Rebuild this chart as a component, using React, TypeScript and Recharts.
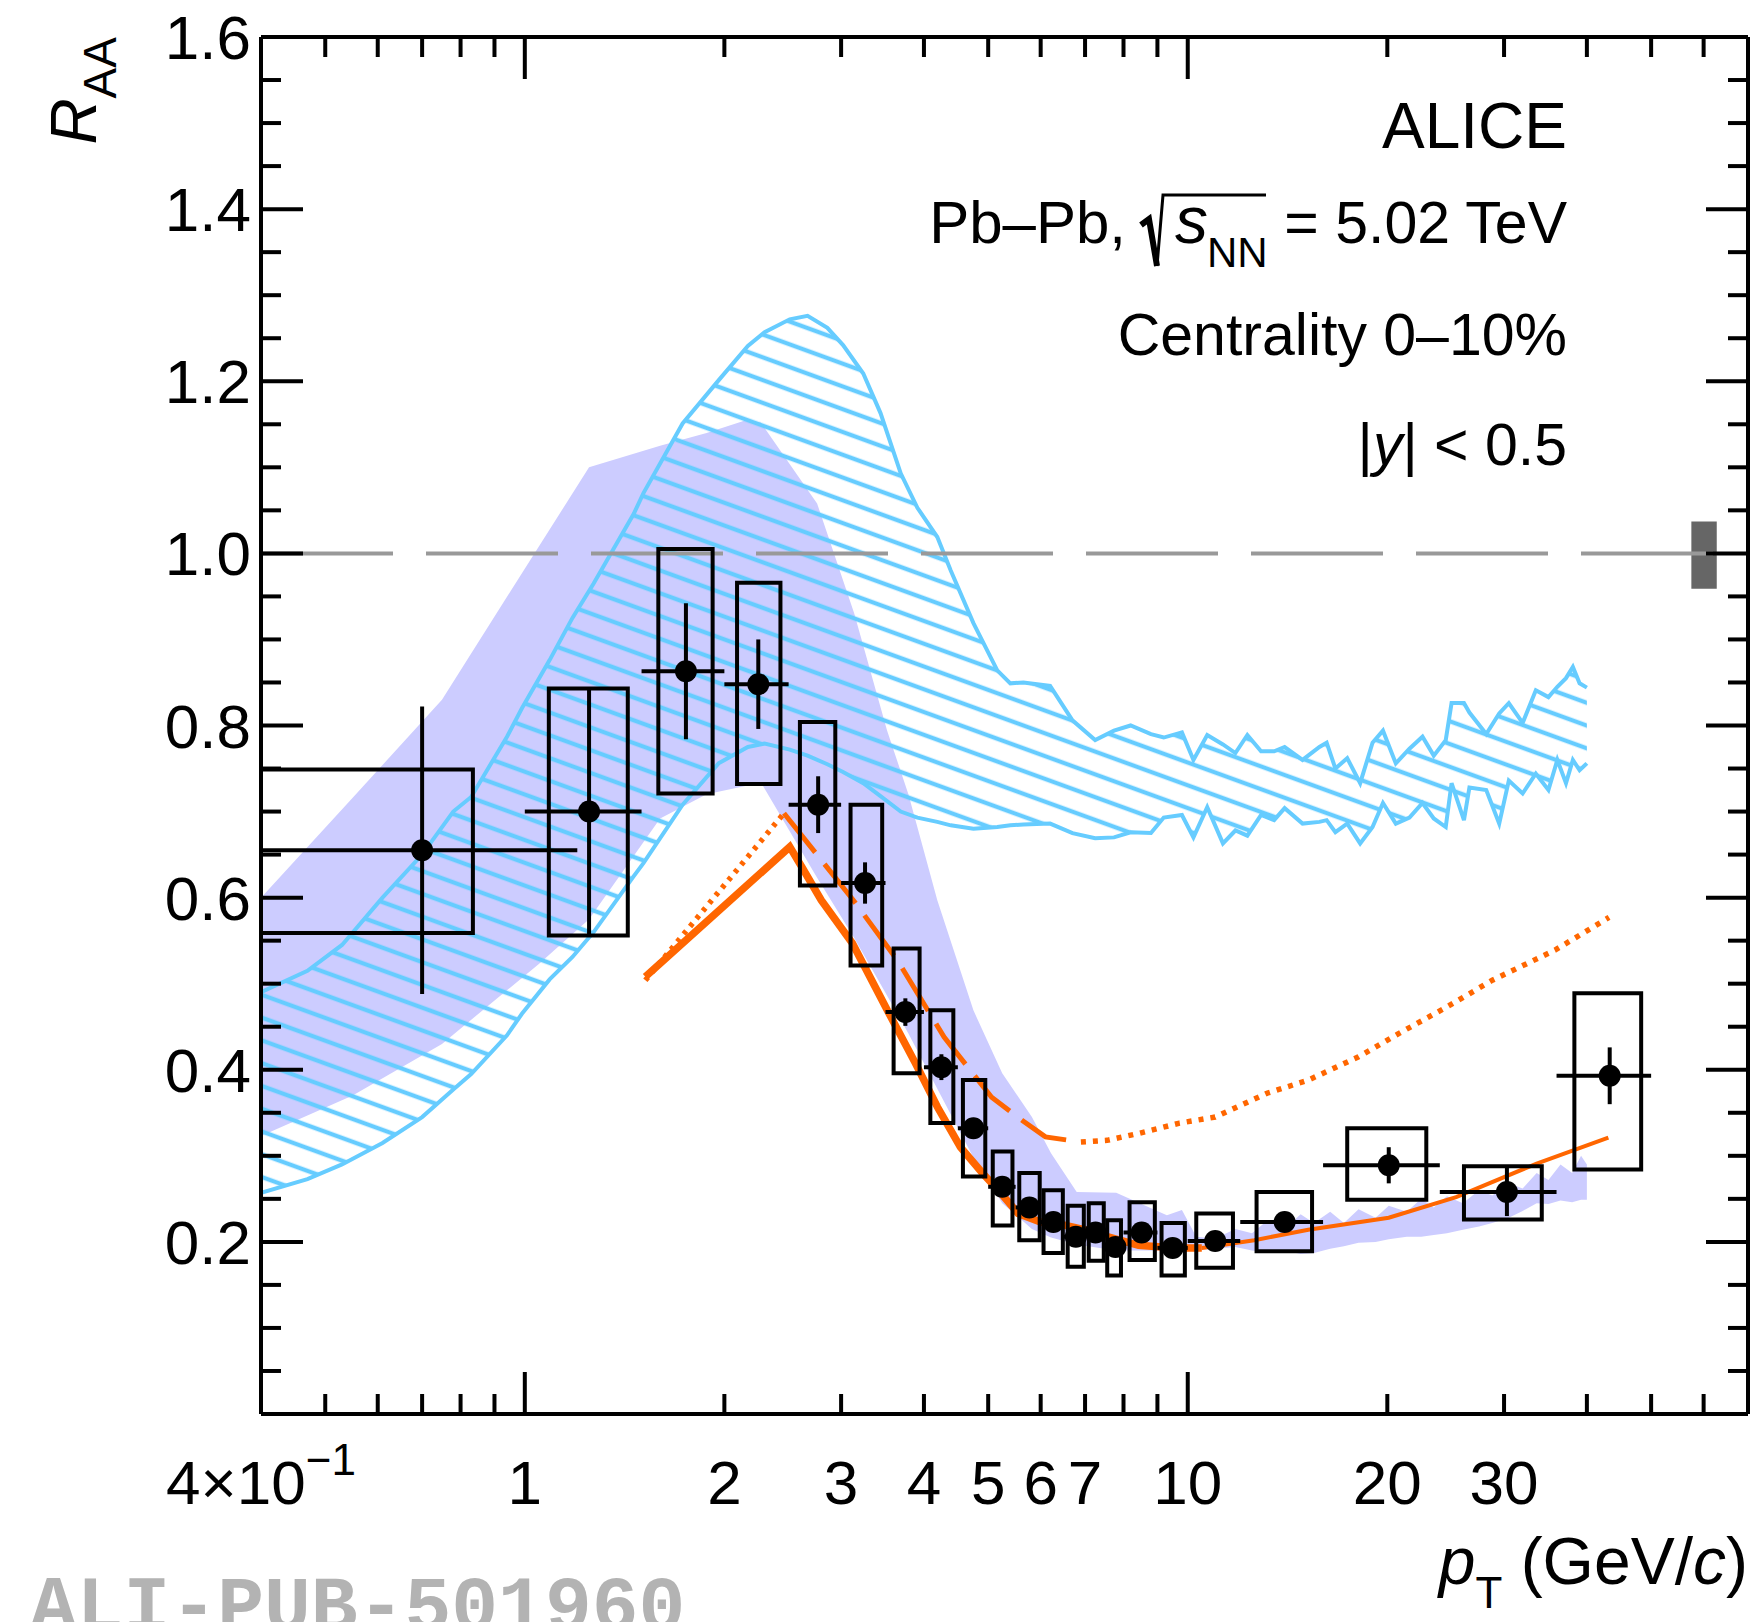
import React from 'react';
import {
  ComposedChart,
  XAxis,
  YAxis,
  Area,
  Line,
  Scatter,
  ErrorBar,
  ReferenceLine,
  ReferenceArea,
} from 'recharts';

const CHART_W = 1753;
const CHART_H = 1622;
const PLOT_LEFT = 261;
const PLOT_RIGHT = 1748;
const PLOT_TOP = 37;
const PLOT_BOTTOM = 1414;
const FONT = "'Liberation Sans', Arial, Helvetica, sans-serif";
const ORANGE = '#ff6600';
const AZURE = '#66ccff';
const LAVENDER = '#ccccff';

// ---------------- measured data points ----------------
const ptValues = [0.70, 1.25, 1.75, 2.25, 2.77, 3.26, 3.75, 4.25, 4.75, 5.25, 5.77, 6.27, 6.78, 7.26, 7.78, 8.52, 9.49, 11.0, 14.0, 20.1, 30.3, 43.3];
const raaValues = [0.655, 0.700, 0.863, 0.848, 0.708, 0.617, 0.467, 0.403, 0.332, 0.264, 0.240, 0.223, 0.206, 0.211, 0.194, 0.211, 0.193, 0.201, 0.223, 0.289, 0.258, 0.393];
const statErr = [0.167, 0.143, 0.079, 0.052, 0.033, 0.024, 0.016, 0.015, 0.012, 0.010, 0.010, 0.010, 0.010, 0.010, 0.010, 0.010, 0.010, 0.010, 0.010, 0.021, 0.028, 0.033];
const binLow = [0.4, 1.0, 1.5, 2.0, 2.5, 3.0, 3.5, 4.0, 4.5, 5.0, 5.5, 6.0, 6.5, 7.0, 7.5, 8.0, 9.0, 10, 12, 16, 24, 36];
const binHigh = [1.2, 1.5, 2.0, 2.5, 3.0, 3.5, 4.0, 4.5, 5.0, 5.5, 6.0, 6.5, 7.0, 7.5, 8.0, 9.0, 10, 12, 16, 24, 36, 50];
const sysLow = [0.559, 0.556, 0.721, 0.732, 0.614, 0.521, 0.396, 0.338, 0.276, 0.219, 0.202, 0.187, 0.171, 0.178, 0.161, 0.179, 0.161, 0.170, 0.189, 0.249, 0.226, 0.284];
const sysHigh = [0.749, 0.843, 1.005, 0.966, 0.804, 0.708, 0.541, 0.469, 0.388, 0.305, 0.280, 0.260, 0.242, 0.245, 0.225, 0.246, 0.222, 0.233, 0.258, 0.332, 0.288, 0.489];
const boxLeft = [0.4, 1.087, 1.59, 2.09, 2.60, 3.10, 3.60, 4.09, 4.58, 5.08, 5.57, 6.06, 6.59, 7.09, 7.56, 8.17, 9.13, 10.3, 12.7, 17.4, 26.1, 38.3];
const boxRight = [0.835, 1.43, 1.92, 2.43, 2.94, 3.46, 3.94, 4.43, 4.95, 5.44, 5.98, 6.48, 6.97, 7.47, 7.93, 8.92, 9.90, 11.7, 15.4, 22.9, 34.2, 48.3];

// ---------------- lavender filled model band ----------------
const purplePt = [0.4, 0.55, 0.75, 1.05, 1.25, 1.6, 1.88, 2.16, 2.27, 2.76, 3.14, 3.52, 3.79, 4.19, 4.75, 5.25, 5.82, 6.22, 6.8, 7.8, 8.4, 9.3, 9.8, 10.3, 11.0, 11.8, 12.5, 13.2, 14.0, 14.8, 15.5, 16.4, 17.2, 18.1, 19.2, 20.1, 21.4, 22.5, 23.5, 24.6, 26.0, 27.5, 28.8, 30.5, 32.0, 33.6, 35.0, 36.5, 38.0, 39.2, 40.0];
const purpleLow = [0.323, 0.370, 0.430, 0.523, 0.575, 0.692, 0.720, 0.730, 0.734, 0.623, 0.553, 0.486, 0.442, 0.378, 0.298, 0.245, 0.215, 0.205, 0.197, 0.190, 0.190, 0.190, 0.190, 0.190, 0.192, 0.194, 0.190, 0.188, 0.190, 0.186, 0.187, 0.192, 0.195, 0.199, 0.200, 0.203, 0.206, 0.206, 0.208, 0.210, 0.214, 0.218, 0.222, 0.228, 0.236, 0.245, 0.244, 0.248, 0.246, 0.249, 0.249];
const purpleHigh = [0.600, 0.716, 0.830, 1.008, 1.100, 1.125, 1.140, 1.155, 1.152, 1.058, 0.930, 0.794, 0.720, 0.597, 0.469, 0.396, 0.345, 0.303, 0.258, 0.257, 0.246, 0.231, 0.237, 0.206, 0.204, 0.215, 0.210, 0.225, 0.215, 0.232, 0.222, 0.235, 0.222, 0.238, 0.228, 0.242, 0.235, 0.250, 0.240, 0.253, 0.245, 0.260, 0.254, 0.268, 0.262, 0.280, 0.272, 0.290, 0.280, 0.300, 0.290];

// ---------------- azure hatched model band ----------------
const bluePt = [0.40, 0.47, 0.53, 0.61, 0.70, 0.78, 0.83, 0.94, 0.99, 1.09, 1.18, 1.27, 1.46, 1.51, 1.73, 1.96, 2.17, 2.30, 2.51, 2.67, 2.86, 3.02, 3.24, 3.44, 3.69, 3.91, 4.19, 4.39, 4.75, 5.16, 5.40, 5.65, 6.2, 6.7, 7.25, 7.74, 8.2, 8.8, 9.2, 9.8, 10.2, 10.7, 11.3, 11.8, 12.3, 12.9, 13.5, 14.0, 14.9, 15.8, 16.2, 16.7, 17.4, 18.2, 19.0, 19.7, 20.6, 21.6, 22.6, 23.5, 24.5, 25.0, 26.1, 26.6, 28.2, 29.5, 30.5, 32.0, 33.5, 35.0, 36.1, 37.2, 38.1, 39.0, 40.0];
const blueLow = [0.257, 0.273, 0.290, 0.315, 0.345, 0.377, 0.395, 0.440, 0.465, 0.505, 0.531, 0.560, 0.625, 0.640, 0.708, 0.756, 0.775, 0.779, 0.772, 0.765, 0.755, 0.746, 0.733, 0.718, 0.700, 0.693, 0.688, 0.684, 0.680, 0.682, 0.684, 0.685, 0.686, 0.675, 0.669, 0.670, 0.676, 0.675, 0.693, 0.696, 0.670, 0.705, 0.663, 0.678, 0.672, 0.696, 0.690, 0.704, 0.686, 0.688, 0.690, 0.676, 0.686, 0.663, 0.682, 0.710, 0.686, 0.693, 0.710, 0.692, 0.682, 0.733, 0.690, 0.728, 0.725, 0.686, 0.736, 0.721, 0.744, 0.725, 0.760, 0.733, 0.760, 0.748, 0.756];
const blueHigh = [0.490, 0.515, 0.545, 0.600, 0.650, 0.700, 0.717, 0.787, 0.820, 0.876, 0.925, 0.965, 1.046, 1.070, 1.151, 1.201, 1.241, 1.257, 1.272, 1.276, 1.262, 1.242, 1.209, 1.163, 1.093, 1.053, 1.019, 0.980, 0.919, 0.864, 0.849, 0.850, 0.846, 0.806, 0.783, 0.794, 0.800, 0.790, 0.786, 0.792, 0.760, 0.789, 0.778, 0.768, 0.789, 0.770, 0.770, 0.775, 0.760, 0.775, 0.780, 0.750, 0.762, 0.733, 0.780, 0.794, 0.756, 0.773, 0.787, 0.765, 0.783, 0.826, 0.826, 0.815, 0.790, 0.814, 0.826, 0.803, 0.841, 0.833, 0.845, 0.855, 0.868, 0.849, 0.844];

// ---------------- orange model curves ----------------
const orangeThickPt = [1.52, 2.51, 2.62, 2.80, 3.12, 3.54, 3.88, 4.19, 4.54, 4.90, 5.22, 5.55, 6.0, 6.47, 7.0, 7.56, 8.43, 9.55, 10.5];
const orangeThickVal = [0.508, 0.659, 0.635, 0.597, 0.547, 0.466, 0.408, 0.357, 0.310, 0.280, 0.257, 0.233, 0.223, 0.220, 0.214, 0.206, 0.196, 0.193, 0.193];
const orangeThinPt = [10.5, 12.6, 15.2, 20.1, 25.4, 33.6, 43.1];
const orangeThinVal = [0.193, 0.202, 0.214, 0.228, 0.252, 0.291, 0.321];
const orangeDotLeftPt = [1.52, 2.46];
const orangeDotLeftVal = [0.504, 0.698];
const orangeDashPt = [2.46, 3.13, 3.65, 4.29, 5.06, 5.63, 6.1, 6.9];
const orangeDashVal = [0.698, 0.597, 0.527, 0.438, 0.368, 0.341, 0.322, 0.316];
const orangeDotRightPt = [6.9, 7.56, 8.43, 9.72, 11.0, 13.2, 15.2, 18.1, 20.8, 24.6, 28.8, 35.8, 43.2];
const orangeDotRightVal = [0.316, 0.318, 0.326, 0.338, 0.345, 0.373, 0.388, 0.415, 0.442, 0.473, 0.504, 0.539, 0.577];

// normalisation uncertainty box
const normBoxX = [57.5, 62.8];
const normBoxY = [0.959, 1.037];

// ---------------- axes ----------------
const xTickValues = [0.4, 0.5, 0.6, 0.7, 0.8, 0.9, 1, 2, 3, 4, 5, 6, 7, 8, 9, 10, 20, 30, 40, 50, 60, 70];
const xTickLabels: Record<string, string> = { '1': '1', '2': '2', '3': '3', '4': '4', '5': '5', '6': '6', '7': '7', '10': '10', '20': '20', '30': '30' };
const xMajorTicks = [1, 10];
const yTickValues = [0.05, 0.1, 0.15, 0.2, 0.25, 0.3, 0.35, 0.4, 0.45, 0.5, 0.55, 0.6, 0.65, 0.7, 0.75, 0.8, 0.85, 0.9, 0.95, 1.0, 1.05, 1.1, 1.15, 1.2, 1.25, 1.3, 1.35, 1.4, 1.45, 1.5, 1.55, 1.6];
const yTickLabels: Record<string, string> = { '0.2': '0.2', '0.4': '0.4', '0.6': '0.6', '0.8': '0.8', '1': '1.0', '1.2': '1.2', '1.4': '1.4', '1.6': '1.6' };

// ---------------- derived tables ----------------
const purpleData = purplePt.map((x, i) => ({ x, band: [purpleLow[i], purpleHigh[i]] }));
const blueData = bluePt.map((x, i) => ({ x, band: [blueLow[i], blueHigh[i]] }));
const toLine = (xs: number[], ys: number[]) => xs.map((x, i) => ({ x, y: ys[i] }));
const pointData = ptValues.map((x, i) => ({
  x,
  y: raaValues[i],
  ex: [x - binLow[i], binHigh[i] - x],
  ey: [statErr[i], statErr[i]],
}));
const boxData = ptValues.map((_, i) => [
  { x: boxLeft[i], y: sysLow[i] },
  { x: boxRight[i], y: sysLow[i] },
  { x: boxRight[i], y: sysHigh[i] },
  { x: boxLeft[i], y: sysHigh[i] },
  { x: boxLeft[i], y: sysLow[i] },
]);

function XTick(props: any) {
  const { x, payload } = props;
  const v = payload.value as number;
  const edge = v <= 0.4 || v >= 70;
  const len = xMajorTicks.includes(v) ? 42 : 20;
  const label = xTickLabels[String(v)];
  return (
    <g>
      {!edge && <line x1={x} x2={x} y1={PLOT_BOTTOM} y2={PLOT_BOTTOM - len} stroke="#000" strokeWidth={4} />}
      {!edge && <line x1={x} x2={x} y1={PLOT_TOP} y2={PLOT_TOP + len} stroke="#000" strokeWidth={4} />}
      {v === 0.4 && (
        <text x={x} y={1504} textAnchor="middle" fontFamily={FONT} fontSize={62} fill="#000">
          4×10<tspan dy={-29} fontSize={44}>−1</tspan>
        </text>
      )}
      {label && (
        <text x={x} y={1504} textAnchor="middle" fontFamily={FONT} fontSize={62} fill="#000">
          {label}
        </text>
      )}
    </g>
  );
}

function YTick(props: any) {
  const { y, payload } = props;
  const v = payload.value as number;
  const label = yTickLabels[String(v)];
  const len = label ? 42 : 20;
  const edge = v >= 1.6;
  return (
    <g>
      {!edge && <line x1={PLOT_LEFT} x2={PLOT_LEFT + len} y1={y} y2={y} stroke="#000" strokeWidth={4} />}
      {!edge && <line x1={PLOT_RIGHT} x2={PLOT_RIGHT - len} y1={y} y2={y} stroke="#000" strokeWidth={4} />}
      {label && (
        <text x={PLOT_LEFT - 10} y={y + 22} textAnchor="end" fontFamily={FONT} fontSize={62} fill="#000">
          {label}
        </text>
      )}
    </g>
  );
}

const Marker = (props: any) => <circle cx={props.cx} cy={props.cy} r={11} fill="#000" />;

export default function App() {
  return (
    <div style={{ position: 'absolute', left: 0, top: 0, width: CHART_W, height: CHART_H, background: '#fff', overflow: 'hidden' }}>
      <svg width={0} height={0} style={{ position: 'absolute' }}>
        <defs>
          <pattern id="hatchAzure" patternUnits="userSpaceOnUse" width={40} height={21.4} patternTransform="rotate(20)">
            <line x1={0} y1={10.7} x2={40} y2={10.7} stroke={AZURE} strokeWidth={4.2} />
          </pattern>
        </defs>
      </svg>
      <ComposedChart width={CHART_W} height={CHART_H} margin={{ top: PLOT_TOP, right: CHART_W - PLOT_RIGHT, bottom: 0, left: 0 }}>
        <XAxis
          dataKey="x"
          type="number"
          scale="log"
          domain={[0.4, 70]}
          allowDataOverflow
          ticks={xTickValues}
          interval={0}
          tick={XTick}
          tickLine={false}
          height={CHART_H - PLOT_BOTTOM}
          axisLine={{ stroke: '#000', strokeWidth: 4 }}
        />
        <YAxis
          type="number"
          domain={[0, 1.6]}
          allowDataOverflow
          ticks={yTickValues}
          interval={0}
          tick={YTick}
          tickLine={false}
          width={PLOT_LEFT}
          axisLine={{ stroke: '#000', strokeWidth: 4 }}
        />
        <Area
          data={purpleData}
          dataKey="band"
          type="linear"
          fill={LAVENDER}
          fillOpacity={1}
          stroke="none"
          dot={false}
          activeDot={false}
          isAnimationActive={false}
        />
        <Area
          data={blueData}
          dataKey="band"
          type="linear"
          fill="url(#hatchAzure)"
          fillOpacity={1}
          stroke={AZURE}
          strokeWidth={4}
          dot={false}
          activeDot={false}
          isAnimationActive={false}
        />
        <ReferenceLine y={1} stroke="#999999" strokeWidth={4} strokeDasharray="132 33" />
        <ReferenceArea x1={normBoxX[0]} x2={normBoxX[1]} y1={normBoxY[0]} y2={normBoxY[1]} fill="#666666" fillOpacity={1} stroke="none" />
        <ReferenceLine y={1.6} stroke="#000" strokeWidth={4} />
        <ReferenceLine x={70} stroke="#000" strokeWidth={4} />
        <Line data={toLine(orangeThickPt, orangeThickVal)} dataKey="y" type="linear" stroke={ORANGE} strokeWidth={7.5} dot={false} activeDot={false} isAnimationActive={false} />
        <Line data={toLine(orangeThinPt, orangeThinVal)} dataKey="y" type="linear" stroke={ORANGE} strokeWidth={4} dot={false} activeDot={false} isAnimationActive={false} />
        <Line data={toLine(orangeDotLeftPt, orangeDotLeftVal)} dataKey="y" type="linear" stroke={ORANGE} strokeWidth={5.5} strokeDasharray="4 6" dot={false} activeDot={false} isAnimationActive={false} />
        <Line data={toLine(orangeDashPt, orangeDashVal)} dataKey="y" type="linear" stroke={ORANGE} strokeWidth={5} strokeDasharray="50 15" dot={false} activeDot={false} isAnimationActive={false} />
        <Line data={toLine(orangeDotRightPt, orangeDotRightVal)} dataKey="y" type="linear" stroke={ORANGE} strokeWidth={5.5} strokeDasharray="5 7" dot={false} activeDot={false} isAnimationActive={false} />
        {boxData.map((d, i) => (
          <Line
            key={'box' + i}
            data={d}
            dataKey="y"
            type="linear"
            stroke="#000"
            strokeWidth={4}
            strokeLinecap="square"
            dot={false}
            activeDot={false}
            isAnimationActive={false}
          />
        ))}
        <Scatter data={pointData} dataKey="y" shape={Marker} isAnimationActive={false}>
          <ErrorBar dataKey="ey" direction="y" width={0} stroke="#000" strokeWidth={4} isAnimationActive={false} />
          <ErrorBar dataKey="ex" direction="x" width={0} stroke="#000" strokeWidth={4} isAnimationActive={false} />
        </Scatter>
      </ComposedChart>
      <svg width={CHART_W} height={CHART_H} style={{ position: 'absolute', left: 0, top: 0, pointerEvents: 'none' }} fontFamily={FONT}>
        <text transform="translate(96,37) rotate(-90)" textAnchor="end" fontSize={64} fill="#000">
          <tspan fontStyle="italic">R</tspan>
          <tspan fontSize={46} dy={20}>AA</tspan>
        </text>
        <text x={1748} y={1584} textAnchor="end" fontSize={66} fill="#000">
          <tspan fontStyle="italic">p</tspan>
          <tspan fontSize={44} dy={24}>T</tspan>
          <tspan dy={-24}> (GeV/</tspan>
          <tspan fontStyle="italic">c</tspan>
          <tspan>)</tspan>
        </text>
        <text x={1567} y={148} textAnchor="end" fontSize={64} fill="#000">ALICE</text>
        <text x={1126} y={243} textAnchor="end" fontSize={60} fill="#000">Pb–Pb,</text>
        <path d="M1141,225 L1149,219 L1157,266" stroke="#000" strokeWidth={6} fill="none" />
        <path d="M1157,266 L1163,195 L1266,195" stroke="#000" strokeWidth={3} fill="none" />
        <text x={1175} y={243} fontSize={66} fontStyle="italic" fill="#000">s</text>
        <text x={1207} y={267} fontSize={42} fill="#000">NN</text>
        <text x={1567} y={243} textAnchor="end" fontSize={59} fill="#000">= 5.02 TeV</text>
        <text x={1567} y={355} textAnchor="end" fontSize={59} fill="#000">Centrality 0–10%</text>
        <text x={1567} y={465} textAnchor="end" fontSize={59} fill="#000">
          |<tspan fontStyle="italic">y</tspan>| &lt; 0.5
        </text>
        <text x={30} y={1630} fontFamily="'Liberation Mono', 'Courier New', monospace" fontWeight="bold" fontSize={78} fill="#b3b3b3">
          ALI-PUB-501960
        </text>
      </svg>
    </div>
  );
}
